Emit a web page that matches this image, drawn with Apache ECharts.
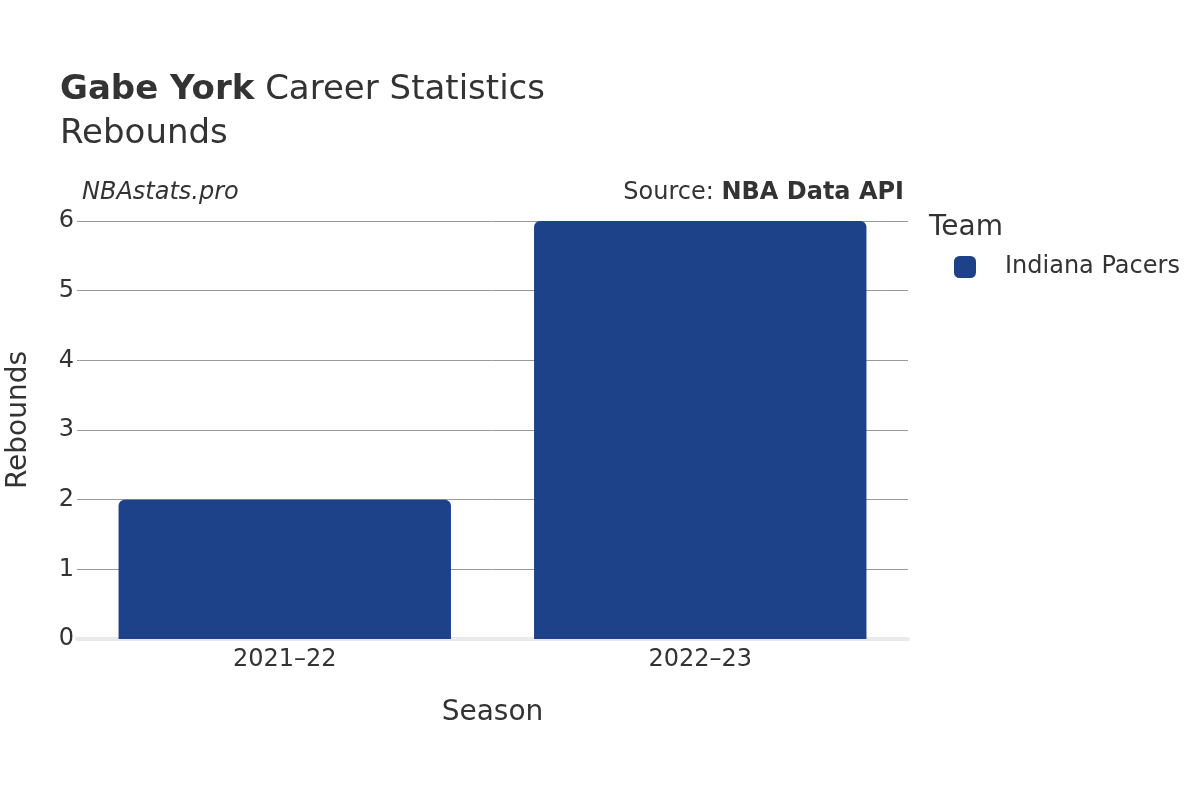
<!DOCTYPE html>
<html>
<head>
<meta charset="utf-8">
<script src="https://cdn.jsdelivr.net/npm/echarts@6/dist/echarts.min.js"></script>
<style>html,body{margin:0;padding:0;background:#fff}#c{width:1200px;height:800px}</style>
</head>
<body>
<div id="c"></div>
<script>
const seasons = ["2021–22", "2022–23"];
const rebounds = [2, 6];
const teamName = "Indiana Pacers";
const yTicks = [0, 1, 2, 3, 4, 5, 6];

const chart = echarts.init(document.getElementById('c'), null, {renderer: 'canvas'});
const F = 'DejaVu Sans';
chart.setOption({
  animation: false,
  textStyle: {fontFamily: F},
  title: [
    {text: '{b|Gabe York} Career Statistics', left: 60, top: 73, padding: 0,
      textStyle: {fontFamily: F, fontSize: 34, fontWeight: 'normal', color: '#333',
        rich: {b: {fontFamily: F, fontSize: 34, fontWeight: 'bold', color: '#333'}}}},
    {text: 'Rebounds', left: 60, top: 117, padding: 0, textStyle: {fontFamily: F, fontSize: 34, fontWeight: 'normal', color: '#333'}},
    {text: 'NBAstats.pro', left: 82, top: 181, padding: 0, textStyle: {fontFamily: F, fontSize: 24, fontStyle: 'italic', fontWeight: 'normal', color: '#333'}},
    {text: 'Source: {b|NBA Data API}', right: 296, top: 181, padding: 0,
      textStyle: {fontFamily: F, fontSize: 24, fontWeight: 'normal', color: '#333',
        rich: {b: {fontFamily: F, fontSize: 24, fontWeight: 'bold', color: '#333'}}}},
    {text: 'Team', left: 929, top: 214, padding: 0, textStyle: {fontFamily: F, fontSize: 28, fontWeight: 'normal', color: '#333'}}
  ],
  legend: {
    left: 954, top: 255, orient: 'vertical', padding: 0,
    itemWidth: 22, itemHeight: 22, itemGap: 10,
    icon: 'roundRect',
    textStyle: {fontFamily: F, fontSize: 24, color: '#333', padding: [4, 0, 0, 24]},
    data: [teamName]
  },
  grid: {left: 77, right: 292, top: 221, bottom: 161, containLabel: false, outerBoundsMode: 'none'},
  xAxis: {
    type: 'category', data: seasons,
    axisLine: {show: true, lineStyle: {color: '#eaeaea', width: 4}},
    axisTick: {show: false},
    axisLabel: {fontFamily: F, fontSize: 24, color: '#333', margin: 9},
    name: 'Season', nameLocation: 'middle', nameGap: 60,
    nameTextStyle: {fontFamily: F, fontSize: 28, color: '#333'}
  },
  yAxis: {
    type: 'value', min: 0, max: 6, interval: 1,
    axisLine: {show: false}, axisTick: {show: false},
    axisLabel: {fontFamily: F, fontSize: 24, color: '#333', margin: 3, padding: [8, 0, 0, 0],
      formatter: v => yTicks.includes(v) ? String(v) : ''},
    splitLine: {lineStyle: {color: '#999', width: 1}},
    name: 'Rebounds', nameLocation: 'middle', nameGap: 44,
    nameTextStyle: {fontFamily: F, fontSize: 28, color: '#333', padding: [0, 0, 0, 20]}
  },
  series: [{
    name: teamName, type: 'bar', data: rebounds,
    barCategoryGap: '20%',
    itemStyle: {color: '#1d428a', borderRadius: [6, 6, 0, 0]},
    z: 1
  }]
});
</script>
</body>
</html>
